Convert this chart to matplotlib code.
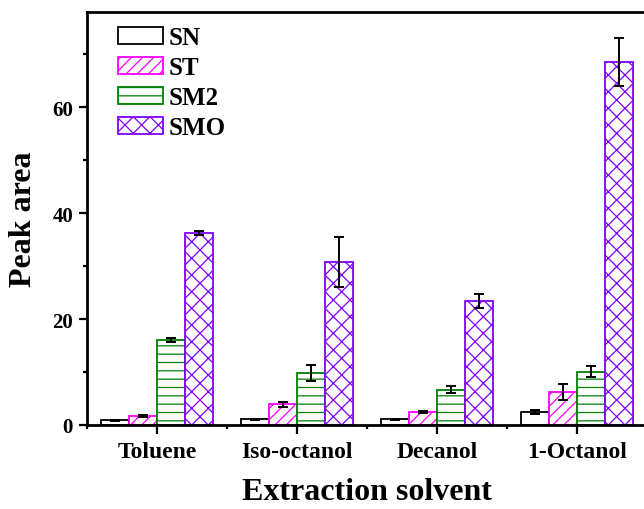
import numpy as np
import matplotlib
matplotlib.use('Agg')
from matplotlib import pyplot as plt
from matplotlib.ticker import MultipleLocator

# data
solvents = ['Toluene', 'Iso-octanol', 'Decanol', '1-Octanol']
series = ['SN', 'ST', 'SM2', 'SMO']
sn = [0.9, 1.1, 1.1, 2.5]
sn_err = [0.1, 0.1, 0.1, 0.4]
st = [1.7, 3.9, 2.5, 6.2]
st_err = [0.15, 0.5, 0.2, 1.5]
sm2 = [16.0, 9.8, 6.7, 10.1]
sm2_err = [0.4, 1.45, 0.6, 0.95]
smo = [36.3, 30.8, 23.4, 68.6]
smo_err = [0.4, 4.8, 1.25, 4.5]

plt.rcParams['font.family'] = ['Liberation Serif', 'DejaVu Serif']
plt.rcParams['font.weight'] = 'bold'
plt.rcParams['hatch.linewidth'] = 0.9

fig = plt.figure(figsize=(6.44, 5.10), dpi=100)
ax = fig.add_axes([87/644, 84/510, 560/644, 413/510])

x = np.arange(len(solvents))
w = 0.2
styles = [
    ('black', ''),
    ('#FF00FF', '///'),
    ('#008000', '--'),
    ('#8000FF', 'xx'),
]
values = [sn, st, sm2, smo]
errors = [sn_err, st_err, sm2_err, smo_err]
for i, (name, vals, errs) in enumerate(zip(series, values, errors)):
    col, hatch = styles[i]
    ax.bar(x + (i - 1.5) * w, vals, w, color='white', edgecolor=col,
           hatch=hatch, linewidth=1.3, label=name, zorder=2)
    ax.errorbar(x + (i - 1.5) * w, vals, yerr=errs, fmt='none', ecolor='black',
                elinewidth=1.4, capsize=3.6, capthick=1.4, zorder=3)

ax.set_xlim(-0.5, 3.5)
ax.set_ylim(0, 78)
ax.set_xticks(x)
ax.set_xticklabels(solvents, fontsize=17, fontweight='bold')
ax.xaxis.set_minor_locator(MultipleLocator(0.5))
ax.yaxis.set_major_locator(MultipleLocator(20))
ax.yaxis.set_minor_locator(MultipleLocator(10))
for lab in ax.get_yticklabels():
    lab.set_fontsize(15)
    lab.set_fontweight('bold')

for s in ax.spines.values():
    s.set_linewidth(2.0)
ax.tick_params(which='major', direction='out', length=6, width=1.6, pad=4)
ax.tick_params(which='minor', direction='out', length=3, width=1.6)
ax.tick_params(axis='x', which='major', length=6.5, pad=5)

ax.set_xlabel('Extraction solvent', fontsize=23, fontweight='bold', labelpad=11)
ax.set_ylabel('Peak area', fontsize=23, fontweight='bold', labelpad=10)

ax.legend(loc='upper left', bbox_to_anchor=(0.055, 0.965), frameon=False,
          prop={'size': 18, 'weight': 'bold'}, handlelength=1.8,
          handleheight=0.7, handletextpad=0.25, labelspacing=0.28,
          borderpad=0, borderaxespad=0)

fig.savefig('out.png', dpi=100)
